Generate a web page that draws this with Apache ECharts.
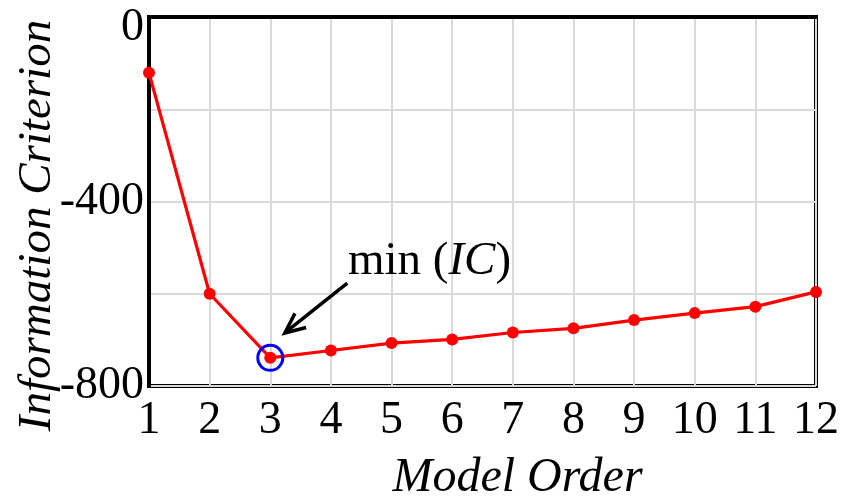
<!DOCTYPE html>
<html>
<head>
<meta charset="utf-8">
<style>
  html, body { margin: 0; padding: 0; background: #ffffff; }
  #chart { width: 856px; height: 496px; }
</style>
<script src="https://cdn.jsdelivr.net/npm/echarts@6/dist/echarts.min.js"></script>
</head>
<body>
<div id="chart"></div>
<script>
// Information criterion versus model order
const modelOrders = [1, 2, 3, 4, 5, 6, 7, 8, 9, 10, 11, 12];
const icValues = [-121, -600, -739, -723, -707, -699, -684, -675, -657, -642, -628, -596];
const yTickLabels = [0, -400, -800];

// Annotation anchors, in data units (order, criterion value)
const minIndex = icValues.indexOf(Math.min.apply(null, icValues));
const arrowTail = [4.27, -577];
const arrowTip = [3.24, -685];
const noteAnchor = [4.28, -530];

const SERIF = "'Liberation Serif', 'Times New Roman', 'DejaVu Serif', serif";
const FS = 46;
const NAME_FS = 47;

const chart = echarts.init(document.getElementById('chart'), null, { renderer: 'canvas' });

chart.setOption({
  animation: false,
  backgroundColor: '#ffffff',
  grid: {
    left: 149, top: 17, right: 40, bottom: 110,
    outerBoundsMode: 'none',
    containLabel: false,
    show: true, borderColor: '#000000', borderWidth: 4, backgroundColor: 'transparent'
  },
  xAxis: {
    type: 'value',
    min: 1, max: 12, interval: 1,
    name: 'Model Order',
    nameLocation: 'middle',
    nameGap: 68,
    nameMoveOverlap: false,
    nameTextStyle: {
      fontFamily: SERIF, fontStyle: 'italic', fontSize: 48, color: '#000',
      padding: [0, 0, 0, 70]
    },
    axisLine: { show: true, lineStyle: { color: '#000', width: 4 } },
    axisTick: { show: false },
    axisLabel: { fontFamily: SERIF, fontSize: FS, color: '#000', margin: 12 },
    splitLine: { show: true, lineStyle: { color: '#d9d9d9', width: 2 } }
  },
  yAxis: {
    type: 'value',
    min: -800, max: 0, interval: 200,
    name: 'Information Criterion',
    nameLocation: 'middle',
    nameGap: 88,
    nameMoveOverlap: false,
    nameTextStyle: {
      fontFamily: SERIF, fontStyle: 'italic', fontSize: NAME_FS, color: '#000',
      padding: [0, 48, 0, 0]
    },
    axisLine: { show: true, lineStyle: { color: '#000', width: 4 } },
    axisTick: { show: false },
    axisLabel: {
      fontFamily: SERIF, fontSize: FS, color: '#000', margin: 5,
      formatter: function (v) {
        if (yTickLabels.indexOf(v) < 0) return '';
        return v === 0 ? '{top|0}' : String(v);
      },
      rich: {
        top: { fontFamily: SERIF, fontSize: FS, color: '#000', padding: [22, 0, 0, 0] }
      }
    },
    splitLine: { show: true, lineStyle: { color: '#d9d9d9', width: 2 } }
  },
  series: [{
    type: 'line',
    data: modelOrders.map((x, i) => [x, icValues[i]]),
    symbol: 'circle',
    symbolSize: 12,
    lineStyle: { color: '#ff0000', width: 3.2 },
    itemStyle: { color: '#ff0000' },
    z: 3,
    markPoint: {
      silent: true,
      symbol: 'circle',
      symbolSize: 25,
      itemStyle: { color: 'transparent', borderColor: '#0000ff', borderWidth: 3 },
      label: { show: false },
      data: [{ coord: [modelOrders[minIndex], icValues[minIndex]] }]
    }
  }]
});

// Arrow pointing at the minimum plus its label
function drawNote() {
  const tail = chart.convertToPixel({ gridIndex: 0 }, arrowTail);
  const tip = chart.convertToPixel({ gridIndex: 0 }, arrowTip);
  const anchor = chart.convertToPixel({ gridIndex: 0 }, noteAnchor);
  const ang = Math.atan2(tip[1] - tail[1], tip[0] - tail[0]);
  const headLen = 22, spread = 0.42;
  const h1 = [tip[0] - headLen * Math.cos(ang - spread), tip[1] - headLen * Math.sin(ang - spread)];
  const h2 = [tip[0] - headLen * Math.cos(ang + spread), tip[1] - headLen * Math.sin(ang + spread)];
  chart.setOption({
    graphic: [
      { type: 'line', shape: { x1: tail[0], y1: tail[1], x2: tip[0], y2: tip[1] },
        style: { stroke: '#000', lineWidth: 3.5 }, z: 10 },
      { type: 'polyline', shape: { points: [h1, tip, h2] },
        style: { stroke: '#000', lineWidth: 3.5, fill: null, lineJoin: 'miter' }, z: 10 },
      { type: 'text', x: anchor[0], y: anchor[1], z: 10,
        style: {
          text: '{a|min (}{b|IC}{a|)}',
          textAlign: 'left', textVerticalAlign: 'middle',
          rich: {
            a: { fontFamily: SERIF, fontSize: 47, fill: '#000' },
            b: { fontFamily: SERIF, fontSize: 47, fontStyle: 'italic', fill: '#000' }
          }
        } }
    ]
  });
}
drawNote();
</script>
</body>
</html>
